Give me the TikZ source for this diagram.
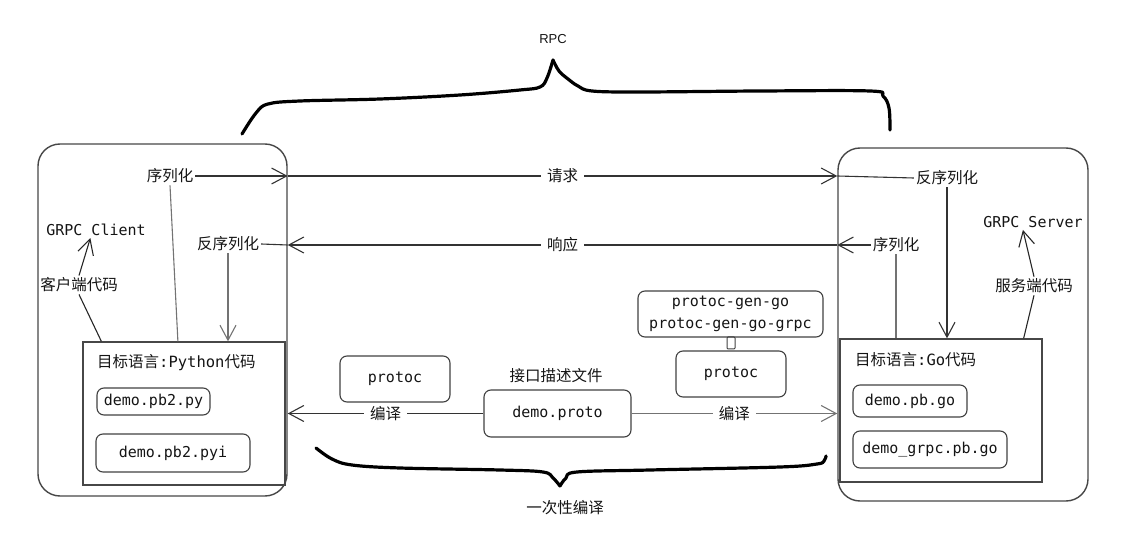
\documentclass[tikz,border=0pt]{standalone}
\usepackage{fontspec}
\setmainfont{Liberation Sans}
\setmonofont{DejaVu Sans Mono}
\newfontfamily\cjk{Noto Sans CJK SC}
\usetikzlibrary{arrows.meta,calc,positioning}

\begin{document}
\begin{tikzpicture}[x=1pt,y=-1pt,
  frame/.style={draw=black!72,line width=1.4pt,rounded corners=22pt,inner sep=0pt},
  target/.style={draw=black!72,line width=1.3pt,inner sep=0pt},
  file/.style={draw=black!75,line width=1.1pt,rounded corners=7pt,inner sep=0pt,
    font=\ttfamily\fontsize{15}{22}\selectfont,text=black!92,align=center},
  lbl/.style={font=\cjk\fontsize{15.5}{18}\selectfont,text=black!92,inner sep=2pt},
  code/.style={font=\ttfamily\fontsize{15}{18}\selectfont,text=black!92,inner sep=2pt},
  onl/.style={lbl,fill=white,inner xsep=6pt},
  arr/.style={line width=1.1pt,draw=black!80,-{Straight Barb[length=15pt,width=16pt]}},
  garr/.style={arr,draw=black!55},
  gline/.style={line width=1.1pt,draw=black!55},
  brace/.style={line width=3.2pt,line cap=round,line join=round}]
\useasboundingbox (0,0) rectangle (1136,553);

% client side
\node[frame,minimum width=249pt,minimum height=352pt] (cli) at (162.5,320) {};
\node[target,minimum width=202pt,minimum height=143pt] (pyc) at (184,413.5) {};
\node[lbl,anchor=west] (pyt) at (95,363) {目标语言{\ttfamily :Python}代码};
\node[file,minimum width=113pt,minimum height=27pt] (pb2py) at (153.5,401.5) {demo.pb2.py};
\node[file,minimum width=154pt,minimum height=38pt] (pb2pyi) at (173,453) {demo.pb2.pyi};
\node[code] (cliname) at (96,230) {GRPC Client};
\node[lbl] (clicode) at (79,285) {客户端代码};
\node[lbl] (serl) at (170,176) {序列化};
\node[lbl] (deserl) at (228,244) {反序列化};

% server side
\node[frame,minimum width=250pt,minimum height=353pt] (srv) at (963,324.5) {};
\node[target,minimum width=202pt,minimum height=143pt] (goc) at (941,410.5) {};
\node[lbl,anchor=west] (got) at (853,360) {目标语言{\ttfamily :Go}代码};
\node[file,minimum width=114pt,minimum height=32pt] (pbgo) at (910,401) {demo.pb.go};
\node[file,minimum width=154pt,minimum height=37pt] (grpcgo) at (930,449.5) {demo\_grpc.pb.go};
\node[code] (srvname) at (1033,222) {GRPC Server};
\node[lbl] (srvcode) at (1034,286) {服务端代码};
\node[lbl] (deserr) at (947,178) {反序列化};
\node[lbl] (serr) at (896,245) {序列化};

% compile step
\node[file,minimum width=110pt,minimum height=46pt] (protocl) at (395,379) {protoc};
\node[file,minimum width=147pt,minimum height=47pt] (proto) at (557.5,413.5) {demo.proto};
\node[lbl] (idl) at (556,376) {接口描述文件};
\node[file,minimum width=185pt,minimum height=46pt] (gen) at (730.5,314) {protoc-gen-go\\protoc-gen-go-grpc};
\node[file,minimum width=110pt,minimum height=46pt] (protocr) at (731,374) {protoc};
\node[draw=black!75,line width=1pt,rounded corners=1pt,minimum width=8pt,minimum height=12pt,inner sep=0pt] (link) at (731,343) {};

\node[font=\fontsize{13}{15}\selectfont,text=black!92] (rpc) at (553,39) {RPC};
\node[lbl] (once) at (565,508) {一次性编译};

% request / response
\draw[arr] (serl) -- (serl -| cli.east);
\draw[arr] (serl -| cli.east) -- node[onl] {请求} (serl -| srv.west);
\draw[line width=1.1pt,draw=black!80] (serl -| srv.west) -- (deserr.west);
\draw[arr] (deserr.south) -- (deserr.south |- goc.north);
\draw[arr] (serr.west) -- (serr -| srv.west);
\draw[arr] (serr -| srv.west) -- node[onl] {响应} (serr -| cli.east);
\draw[line width=1.1pt,draw=black!80] (serr -| cli.east) -- (deserl.east);
\draw[garr] (deserl.south) -- (deserl.south |- pyc.north);
\draw[gline] (serl.south) -- ($(pyc.north west)!0.47!(pyc.north east)$);
\draw[gline] (serr.south) -- (serr.south |- goc.north);

% code labels
\draw[arr,draw=black!85] (clicode.north) -- (cliname.235);
\draw[line width=1.1pt,draw=black!85] (clicode.south) -- ($(pyc.north west)+(19,0)$);
\draw[arr,draw=black!85] (srvcode.north) -- (srvname.218);
\draw[line width=1.1pt,draw=black!85] (srvcode.south) -- ($(goc.north east)+(-19,0)$);

% compile arrows
\draw[arr] (proto.west) -- node[onl] {编译} (proto -| cli.east);
\draw[garr] (proto.east) -- node[onl] {编译} (proto -| srv.west);

% braces
\draw[brace] plot[smooth,tension=0.6] coordinates {(242,134) (256,113) (268,104) (300,101) (380,99) (460,95) (520,90) (540,87) (547,78) (553,60)};
\draw[brace] plot[smooth,tension=0.6] coordinates {(553,60) (559,71) (568,79) (578,86) (592,91) (640,92) (760,91) (870,91) (883,96) (889,108) (890,130)};
\draw[brace] plot[smooth,tension=0.6] coordinates {(316,448) (332,459) (352,465) (400,468) (500,470) (543,472) (553,478) (560,486)};
\draw[brace] plot[smooth,tension=0.6] coordinates {(560,486) (566,478) (577,472) (650,470) (780,467) (817,464) (824,461) (826,456)};
\end{tikzpicture}
\end{document}
